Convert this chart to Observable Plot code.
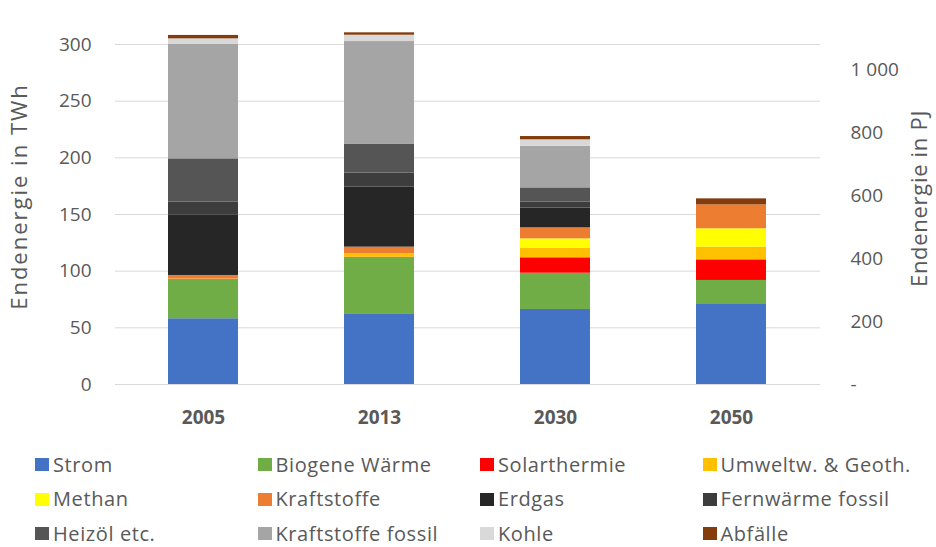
<!DOCTYPE html>
<html><head><meta charset="utf-8">
<script src="https://cdn.jsdelivr.net/npm/d3@7"></script>
<script src="https://cdn.jsdelivr.net/npm/@observablehq/plot@0.6"></script>
<style>
body{margin:0;background:#fff;font-family:"Open Sans",sans-serif;}
#legend{display:grid;grid-template-columns:repeat(4,222.5px);grid-auto-rows:34.5px;margin-left:35px;padding-top:7.5px;color:#595959;font-size:20px;letter-spacing:0.6px;line-height:20px;}
.item{display:flex;align-items:center;white-space:nowrap;}
.sw{width:14px;height:13px;margin-right:4px;flex:none;}
</style></head><body>
<div id="chart"></div><div id="legend"></div>
<script>
const years = ["2005", "2013", "2030", "2050"];
const seriesNames = ["Strom", "Biogene Wärme", "Solarthermie", "Umweltw. & Geoth.", "Methan", "Kraftstoffe", "Erdgas", "Fernwärme fossil", "Heizöl etc.", "Kraftstoffe fossil", "Kohle", "Abfälle"];
const seriesColors = ["#4472C4", "#70AD47", "#FF0000", "#FFC000", "#FFFF00", "#ED7D31", "#262626", "#3D3D3D", "#555555", "#A5A5A5", "#D9D9D9", "#843C0C"];

const strom        = [58.0, 61.8, 66.2, 70.6];
const biogene      = [34.6, 50.0, 32.0, 21.2];
const solar        = [0.3, 0.5, 13.6, 18.2];
const umwelt       = [0.3, 3.0, 8.2, 11.2];
const methan       = [0, 0, 8.5, 16.2];
const kraftstoffe  = [3.0, 5.9, 9.7, 21.1];
const erdgas       = [53.5, 52.9, 17.4, 0];
const fernwaerme   = [11.2, 12.4, 5.3, 0];
const heizoel      = [38.2, 25.3, 12.6, 0];
const kraftFossil  = [100.9, 90.8, 36.8, 0];
const kohle        = [5.0, 5.6, 5.6, 0];
const abfaelle     = [3.0, 2.1, 2.9, 5.3];

const twhTicks = [0, 50, 100, 150, 200, 250, 300];
const pjTicks = [0, 200, 400, 600, 800, 1000];
const leftTitle = "Endenergie in TWh";
const rightTitle = "Endenergie in PJ";

const allValues = [strom, biogene, solar, umwelt, methan, kraftstoffe, erdgas, fernwaerme, heizoel, kraftFossil, kohle, abfaelle];
const data = [];
seriesNames.forEach((s, i) => allValues[i].forEach((v, j) => data.push({year: years[j], series: s, value: v})));

const pjFormat = v => {
  const p = Math.round(v * 3.6);
  return p === 0 ? "-" : String(p).replace(/\B(?=(\d{3})+$)/g, "\u00a0");
};

const chart = Plot.plot({
  width: 936, height: 440,
  marginLeft: 115, marginRight: 116, marginTop: 44, marginBottom: 56,
  style: {fontFamily: "'Open Sans', sans-serif", fontSize: "19px", color: "#595959", background: "#fff"},
  x: {domain: years, paddingInner: 0.6, paddingOuter: 0.3, label: null},
  y: {domain: [0, 300], label: null},
  color: {domain: seriesNames, range: seriesColors},
  marks: [
    Plot.gridY(twhTicks, {stroke: "#d9d9d9", strokeOpacity: 1}),
    Plot.barY(data, {x: "year", y: "value", fill: "series", order: null}),
    Plot.axisY(twhTicks, {tickSize: 0, tickPadding: 24, label: null, fontSize: 19, fill: "#595959"}),
    Plot.axisY(pjTicks.map(v => v / 3.6), {anchor: "right", tickSize: 0, tickPadding: 30, tickFormat: pjFormat, label: null, fontSize: 19, fill: "#595959"}),
    Plot.axisX({tickSize: 0, tickPadding: 26, fontWeight: "bold", fontSize: 19, label: null, fill: "#595959"}),
    Plot.text([leftTitle], {text: d => d, frameAnchor: "left", textAnchor: "middle", rotate: -90, dx: -96, dy: -18, fontSize: 22, fill: "#595959"}),
    Plot.text([rightTitle], {text: d => d, frameAnchor: "right", textAnchor: "middle", rotate: -90, dx: 99, dy: -16, fontSize: 22, fill: "#595959"})
  ]
});
d3.select(chart).selectAll("text").each(function() {
  const t = this.textContent;
  if (t === leftTitle) this.style.letterSpacing = "2px";
  if (t === rightTitle) this.style.letterSpacing = "0.7px";
});
document.getElementById("chart").appendChild(chart);

const legend = document.getElementById("legend");
seriesNames.forEach((s, i) => {
  const item = document.createElement("div");
  item.className = "item";
  const sw = document.createElement("span");
  sw.className = "sw";
  sw.style.background = seriesColors[i];
  const t = document.createElement("span");
  t.textContent = s;
  item.appendChild(sw); item.appendChild(t);
  legend.appendChild(item);
});
</script>
</body></html>
